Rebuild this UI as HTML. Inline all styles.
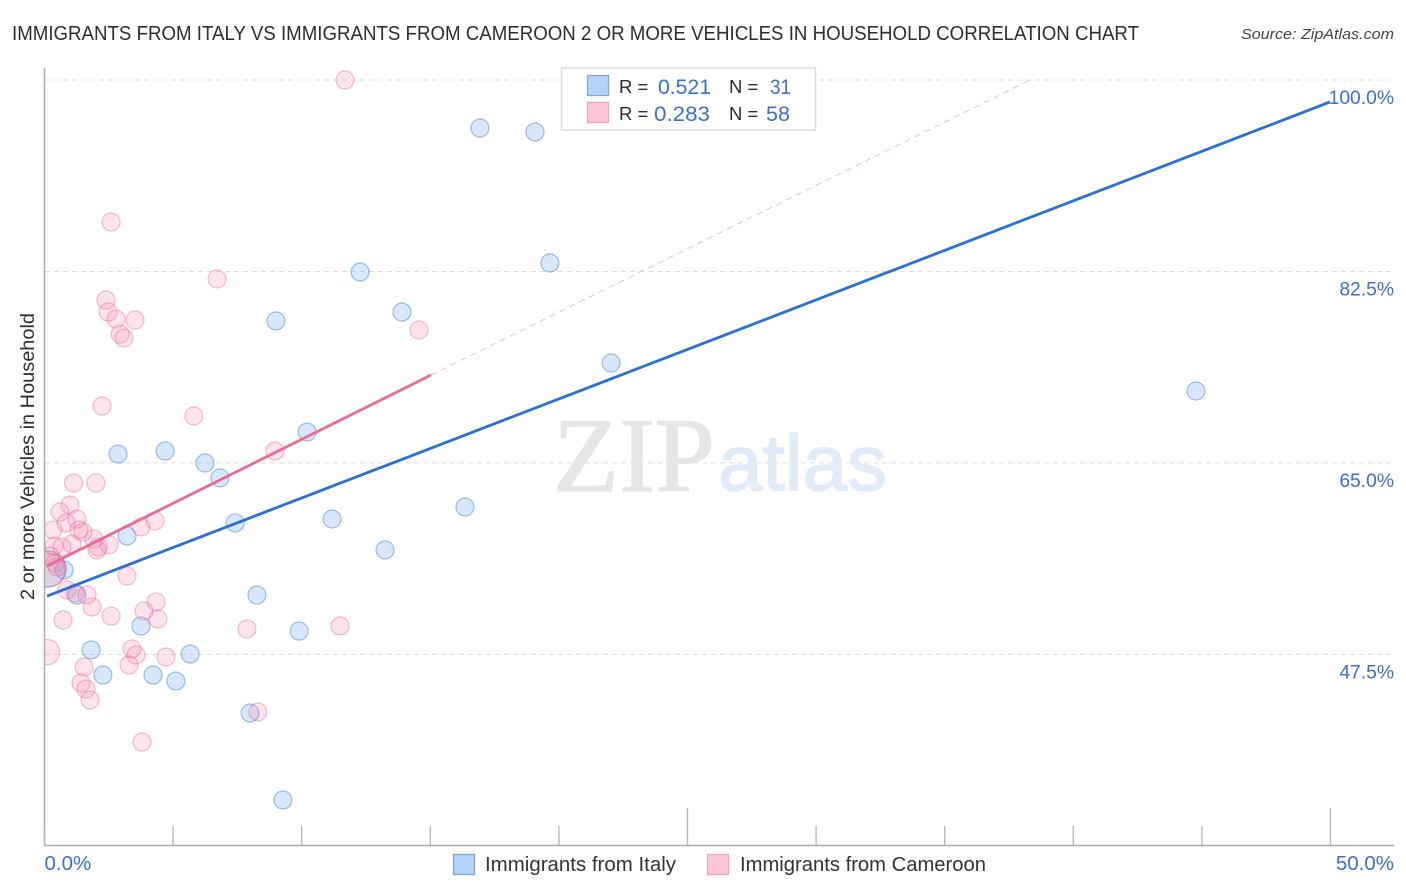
<!DOCTYPE html>
<html lang="en">
<head>
<meta charset="utf-8">
<title>Immigrants from Italy vs Immigrants from Cameroon correlation chart</title>
<style>
html,body{margin:0;padding:0;background:#fff;}
svg{display:block;font-family:"Liberation Sans",sans-serif;}
</style>
</head>
<body>
<svg id="chart" xmlns="http://www.w3.org/2000/svg" width="1406" height="892" viewBox="0 0 1406 892">
  <defs>
    <clipPath id="plot-clip"><rect x="44.5" y="60" width="1350" height="786"/></clipPath>
  </defs>
  <text x="12" y="40" font-size="20" fill="#2e2e2e" textLength="1127" lengthAdjust="spacingAndGlyphs">IMMIGRANTS FROM ITALY VS IMMIGRANTS FROM CAMEROON 2 OR MORE VEHICLES IN HOUSEHOLD CORRELATION CHART</text>
  <text x="1394" y="39" font-size="15" font-style="italic" fill="#444" text-anchor="end" textLength="153" lengthAdjust="spacingAndGlyphs">Source: ZipAtlas.com</text>
  <g id="grid"></g>
  <g>
    <text x="553" y="491" font-family="'Liberation Serif',serif" font-size="106" fill="#e6e6e6" stroke="#e6e6e6" stroke-width="1.2" textLength="162" lengthAdjust="spacingAndGlyphs">ZIP</text>
    <text x="718" y="490" font-size="79" fill="#e2ecf9" stroke="#e2ecf9" stroke-width="1.5" textLength="169" lengthAdjust="spacingAndGlyphs">atlas</text>
  </g>
  <g clip-path="url(#plot-clip)">
    <g id="points-italy"></g>
    <g id="points-cameroon"></g>
  </g>
  <g id="trends"></g>
  <g id="axes">
    <line x1="44.5" y1="68" x2="44.5" y2="846" stroke="#aaa" stroke-width="1.5"/>
    <line x1="44" y1="845.5" x2="1394" y2="845.5" stroke="#aaa" stroke-width="1.5"/>
  </g>
  <text transform="translate(34,600) rotate(-90)" x="0" y="0" font-size="19" fill="#2e2e2e" textLength="287" lengthAdjust="spacingAndGlyphs">2 or more Vehicles in Household</text>
  <g>
    <rect x="561.5" y="68" width="254" height="62" fill="#fff" stroke="#ddd" stroke-width="1.5"/>
    <rect x="587.5" y="75.5" width="21" height="20" fill="#b5d3f9" stroke="#7fa8e0" stroke-width="1.3"/>
    <rect x="587.5" y="102.5" width="21" height="20" fill="#fdc5d7" stroke="#f3a3bc" stroke-width="1.3"/>
    <text x="619" y="93" font-size="18.5" fill="#2e2e2e">R =</text>
    <text x="658" y="94" font-size="21" fill="#3b6fd4" textLength="53" lengthAdjust="spacingAndGlyphs">0.521</text>
    <text x="729" y="93" font-size="18.5" fill="#2e2e2e">N =</text>
    <text x="770" y="94" font-size="21" fill="#3b6fd4" textLength="21" lengthAdjust="spacingAndGlyphs">31</text>
    <text x="619" y="120" font-size="18.5" fill="#2e2e2e">R =</text>
    <text x="654" y="121" font-size="21" fill="#3b6fd4" textLength="56" lengthAdjust="spacingAndGlyphs">0.283</text>
    <text x="729" y="120" font-size="18.5" fill="#2e2e2e">N =</text>
    <text x="766" y="121" font-size="21" fill="#3b6fd4" textLength="24" lengthAdjust="spacingAndGlyphs">58</text>
  </g>
  <g>
    <rect x="453.5" y="854.5" width="21" height="20" fill="#b5d3f9" stroke="#7fa8e0" stroke-width="1.3"/>
    <text x="485" y="871" font-size="20" fill="#333" textLength="191" lengthAdjust="spacingAndGlyphs">Immigrants from Italy</text>
    <rect x="707.5" y="854.5" width="21" height="20" fill="#fdc5d7" stroke="#f3a3bc" stroke-width="1.3"/>
    <text x="740" y="871" font-size="20" fill="#333" textLength="246" lengthAdjust="spacingAndGlyphs">Immigrants from Cameroon</text>
  </g>
</svg>
<script>
const italyX = [16.93,19.07,19.65,12.27,13.90,9.00,22.03,44.77,10.21,2.86,4.69,6.24,6.82,16.35,7.41,11.18,3.21,13.24,0.76,1.26,8.26,3.75,9.90,1.81,5.66,2.27,4.22,5.11,7.99,9.27,0.14];
const italyY = [95.61,95.25,83.27,82.45,78.79,77.97,74.13,71.57,67.82,65.81,66.09,64.99,63.62,60.97,59.51,59.87,58.32,57.04,55.21,52.92,52.92,50.09,49.63,47.90,47.53,45.61,45.61,45.06,42.14,34.19,55.30];
const italyWeight = [1,1,1,1,1,1,1,1,1,1,1,1,1,1,1,1,1,1,1,1,1,1,1,1,1,1,1,1,1,1,4];

const cameroonX = [11.68,2.59,6.71,2.39,2.47,2.78,3.52,2.94,3.09,14.56,2.24,5.81,8.96,1.13,2.00,0.99,0.60,1.26,0.84,1.34,1.50,4.30,3.75,0.33,1.92,2.51,2.08,2.04,1.07,0.37,0.68,3.21,0.41,0.49,0.14,0.87,1.19,1.65,1.85,0.72,2.59,4.34,3.87,4.41,7.87,11.49,0.10,3.40,3.56,3.29,4.72,1.54,1.42,1.61,1.77,8.30,3.79,0.21];
const cameroonY = [100,87.02,81.81,79.89,78.79,78.15,78.06,76.78,76.42,77.15,70.20,69.29,66.09,63.16,63.16,61.15,60.51,59.87,59.51,58.87,58.68,59.69,59.14,58.87,58.04,57.50,57.31,57.04,57.59,57.40,57.31,54.66,55.85,55.48,55.21,53.38,53.11,52.92,51.83,50.64,51.00,52.29,51.46,50.73,49.82,50.09,47.71,47.99,47.44,46.53,47.26,46.34,44.88,44.33,43.33,42.23,39.49,56.49];
const cameroonWeight = [1,1,1,1,1,1,1,1,1,1,1,1,1,1,1,1,1,1,1,1,1,1,1,1,1,1,1,1,1,1,1,1,1,1,3.5,1,1,1,1,1,1,1,1,1,1,1,2,1,1,1,1,1,1,1,1,1,1,1];

const italyTrendX = [0.1,49.98];
const italyTrendY = [52.83,97.99];
const cameroonTrendX = [0.1,15.03];
const cameroonTrendY = [55.58,73.03];
const cameroonExtensionX = [15.03,38.32];
const cameroonExtensionY = [73.03,100];

const yTickValues = [100,82.5,65,47.5];
const yTickLabels = ["100.0%","82.5%","65.0%","47.5%"];
const xTickValues = [0,5,10,15,20,25,30,35,40,45,50];
const xMajorTicks = [25,50];
const xEndValues = [0,50];
const xEndLabels = ["0.0%","50.0%"];

const NS = "http://www.w3.org/2000/svg";
function xScale(v){ return 44.5 + v * 25.72; }
function yScale(v){ return 80 + (100 - v) * 10.94; }
function make(tag, parent, attrs){
  const el = document.createElementNS(NS, tag);
  for (const k in attrs) el.setAttribute(k, attrs[k]);
  parent.appendChild(el);
  return el;
}

const gridG = document.getElementById("grid");
const axesG = document.getElementById("axes");
yTickValues.forEach(function(v, i){
  const line = make("line", gridG, {x1:45, x2:1394, y1:yScale(v), y2:yScale(v), stroke:"#dcdcdc", "stroke-width":1, "stroke-dasharray":"5 4"});
  
  
  const label = make("text", axesG, {x:1394, y:yScale(v) + 24, "font-size":19.3, fill:"#3b6fd4", "text-anchor":"end"});
  
  
  label.textContent = yTickLabels[i];
});
xTickValues.forEach(function(v){
  const major = xMajorTicks.indexOf(v) >= 0;
  const tick = make("line", axesG, {x1:xScale(v), x2:xScale(v), y1:major ? 808 : 826, y2:845, stroke:"#b5b5b5", "stroke-width":1.3});
  
  
});
xEndValues.forEach(function(v, i){
  const label = make("text", axesG, {x:i === 0 ? xScale(v) : 1394, y:870, "font-size":20.5, fill:"#3b6fd4", "text-anchor":i === 0 ? "start" : "end"});
  
  
  label.textContent = xEndLabels[i];
});

function drawPoints(groupId, xs, ys, weights, fill, stroke){
  const g = document.getElementById(groupId);
  xs.forEach(function(x, i){
    const c = make("circle", g, {cx:xScale(x), cy:yScale(ys[i]), r:9 * Math.sqrt(weights[i]), fill:fill, stroke:stroke, "stroke-width":1.2});
    
    
  });
}
drawPoints("points-italy", italyX, italyY, italyWeight, "rgba(110,165,235,0.27)", "rgba(70,130,220,0.5)");
drawPoints("points-cameroon", cameroonX, cameroonY, cameroonWeight, "rgba(245,130,170,0.22)", "rgba(235,100,145,0.42)");

const trendsG = document.getElementById("trends");
const extension = make("line", trendsG, {x1:xScale(cameroonExtensionX[0]), y1:yScale(cameroonExtensionY[0]), x2:xScale(cameroonExtensionX[1]), y2:yScale(cameroonExtensionY[1]), stroke:"#f0bccd", "stroke-width":1, "stroke-dasharray":"6 5"});


const italyTrend = make("line", trendsG, {x1:xScale(italyTrendX[0]), y1:yScale(italyTrendY[0]), x2:xScale(italyTrendX[1]), y2:yScale(italyTrendY[1]), stroke:"#2a70d8", "stroke-width":2.8});


const cameroonTrend = make("line", trendsG, {x1:xScale(cameroonTrendX[0]), y1:yScale(cameroonTrendY[0]), x2:xScale(cameroonTrendX[1]), y2:yScale(cameroonTrendY[1]), stroke:"#ea6b95", "stroke-width":2.8});


</script>
</body>
</html>
